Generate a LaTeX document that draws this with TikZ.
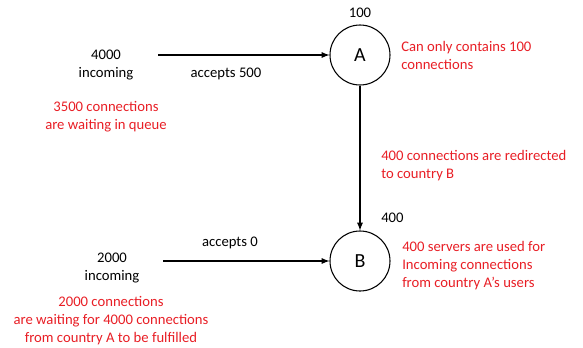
\documentclass[tikz,border=0pt]{standalone}
\usepackage{fontspec}
\setmainfont{Carlito}
\usepackage{tikz}
\usetikzlibrary{positioning,arrows.meta}
\definecolor{notered}{RGB}{232,30,37}

\begin{document}
\begin{tikzpicture}[x=0.75pt,y=-0.75pt,>=latex,
    server/.style={draw, circle, line width=0.8pt, minimum size=45pt, inner sep=0pt, font=\fontsize{15}{18}\selectfont},
    lbl/.style={font=\fontsize{11}{13.5}\selectfont, align=center, inner sep=0pt},
    note/.style={lbl, text=notered},
    flow/.style={->, line width=1pt}]
  \useasboundingbox (0,0) rectangle (583,347);

  % --- Servers ---
  \node[server] (A) at (360,55) {A};
  \node[server] (B) at (360,261) {B};
  \node[lbl] (capA) at (360,13) {100};
  \node[lbl, anchor=west] (capB) at (381,218) {400};

  % --- Country A traffic (upper) ---
  \node[lbl] (inA) at (106,65) {4000\\incoming};
  \coordinate (srcA) at (158,55);
  \draw[flow] (srcA) -- (A);
  \node[lbl] (accA) at (226,74) {accepts 500};
  \node[note] (queueA) at (106,117) {3500 connections\\are waiting in queue};
  \node[note, anchor=west, align=left] (noteA) at (401,55) {Can only contains 100\\connections};

  % Redirect A -> B
  \draw[flow] (A) -- (B);
  \node[note, anchor=west, align=left] (redir) at (381,166) {400 connections are redirected\\to country B};

  % --- Country B traffic (lower) ---
  \node[lbl] (inB) at (112,268) {2000\\incoming};
  \coordinate (srcB) at (163,261);
  \draw[flow] (srcB) -- (B);
  \node[lbl] (accB) at (230,243) {accepts 0};
  \node[note] (queueB) at (111,321) {2000 connections\\are waiting for 4000 connections\\from country A to be fulfilled};
  \node[note, anchor=west, align=left] (noteB) at (402,266) {400 servers are used for\\Incoming connections\\from country A’s users};
\end{tikzpicture}
\end{document}
